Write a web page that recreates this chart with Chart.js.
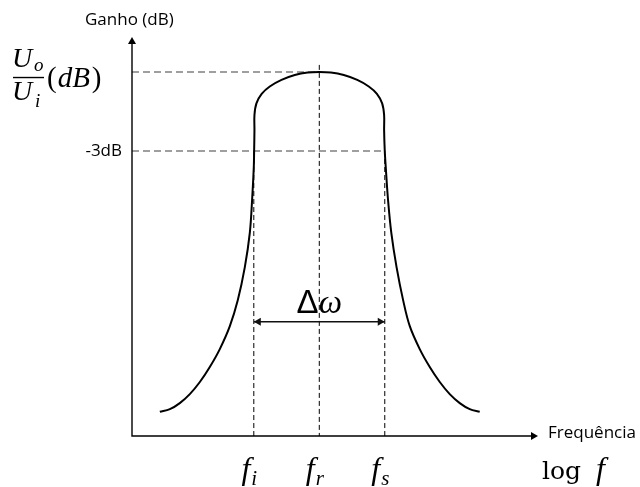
<!DOCTYPE html>
<html>
<head>
<meta charset="utf-8">
<script src="https://cdn.jsdelivr.net/npm/chart.js@4/dist/chart.umd.min.js"></script>
<style>
  html, body { margin: 0; padding: 0; background: #fff; }
  #wrap { width: 640px; height: 487px; }
</style>
</head>
<body>
<div id="wrap"><canvas id="bandChart"></canvas></div>
<script>
// x: log f with f_r at 0 and one unit to f_i / f_s; y: gain in dB
const xMin = -2.86, xMax = 3.34;
const yMin = -13.82, yMax = 1.33;

const markerSubs = ['i', 'r', 's'];
const markerX = [-1, 0, 1];

const gainTicks = [0, -3];
const gainLabels = ['', '-3dB'];

const curveX = [-2.435, -2.282, -2.130, -1.977, -1.824, -1.672, -1.519, -1.366, -1.244, -1.137, -1.061, -1.026, -1.0,
  -0.995, -0.99, -0.99, -0.96, -0.88, -0.756, -0.577, -0.374, -0.176, 0,
  0.176, 0.374, 0.58, 0.756, 0.88, 0.96, 0.99, 0.99, 1.0, 1.015, 1.05, 1.10, 1.18, 1.28,
  1.382, 1.534, 1.687, 1.840, 1.992, 2.145, 2.298, 2.450];
const curveY = [-12.90, -12.80, -12.57, -12.23, -11.77, -11.20, -10.52, -9.65, -8.66, -7.41, -6.11, -4.86, -3.61,
  -3.0, -2.20, -1.63, -1.19, -0.83, -0.55, -0.30, -0.114, -0.02, 0,
  -0.02, -0.114, -0.30, -0.55, -0.83, -1.19, -1.63, -2.20, -3.0, -3.61, -4.86, -6.11, -7.41, -8.66,
  -9.65, -10.52, -11.20, -11.77, -12.23, -12.57, -12.80, -12.90];

const bandwidthY = -9.48;
const peakGuideTop = 0.27;

const curve = curveX.map((x, i) => ({ x: x, y: curveY[i] }));

// dashed guides: gain levels run to the marker where they meet the curve
const gainGuides = [
  { data: [{ x: xMin, y: gainTicks[0] }, { x: markerX[1], y: gainTicks[0] }] },
  { data: [{ x: xMin, y: gainTicks[1] }, { x: markerX[2], y: gainTicks[1] }] }
];
const freqGuides = [
  { data: [{ x: markerX[0], y: gainTicks[1] }, { x: markerX[0], y: yMin }] },
  { data: [{ x: markerX[1], y: peakGuideTop }, { x: markerX[1], y: yMin }] },
  { data: [{ x: markerX[2], y: gainTicks[1] }, { x: markerX[2], y: yMin }] }
];

function arrowHead(ctx, x, y, dir) {
  // dir: 'up', 'right', 'left'
  ctx.beginPath();
  if (dir === 'up') {
    ctx.moveTo(x, y); ctx.lineTo(x - 4, y + 7); ctx.lineTo(x + 4, y + 7);
  } else if (dir === 'right') {
    ctx.moveTo(x, y); ctx.lineTo(x - 7, y - 4); ctx.lineTo(x - 7, y + 4);
  } else {
    ctx.moveTo(x, y); ctx.lineTo(x + 7, y - 4); ctx.lineTo(x + 7, y + 4);
  }
  ctx.closePath();
  ctx.fill();
}

const annotations = {
  id: 'annotations',
  afterDatasetsDraw(chart) {
    const ctx = chart.ctx;
    const area = chart.chartArea;
    const xs = chart.scales.x, ys = chart.scales.y;
    ctx.save();

    // axes with arrows
    ctx.strokeStyle = '#000';
    ctx.fillStyle = '#000';
    ctx.lineWidth = 1.4;
    ctx.beginPath();
    ctx.moveTo(area.left, area.top + 5);
    ctx.lineTo(area.left, area.bottom);
    ctx.lineTo(area.right - 5, area.bottom);
    ctx.stroke();
    arrowHead(ctx, area.left, area.top, 'up');
    arrowHead(ctx, area.right, area.bottom, 'right');

    // bandwidth arrow
    const bwY = ys.getPixelForValue(bandwidthY);
    const bwL = xs.getPixelForValue(markerX[0]);
    const bwR = xs.getPixelForValue(markerX[2]);
    ctx.fillStyle = '#111';
    arrowHead(ctx, bwL, bwY, 'left');
    arrowHead(ctx, bwR, bwY, 'right');

    ctx.fillStyle = '#000';

    // axis titles
    ctx.font = '17px "Open Sans"';
    ctx.textAlign = 'left';
    ctx.textBaseline = 'middle';
    ctx.fillText('Ganho (dB)', 85, area.top - 17);
    ctx.fillText('Frequência', area.right + 10, area.bottom - 3);

    // gain tick labels
    ctx.textAlign = 'right';
    gainTicks.forEach((g, i) => {
      if (gainLabels[i]) ctx.fillText(gainLabels[i], area.left - 10, ys.getPixelForValue(g));
    });

    // Uo/Ui (dB) next to the 0 dB level
    const y0 = ys.getPixelForValue(gainTicks[0]);
    ctx.textBaseline = 'alphabetic';
    ctx.textAlign = 'left';
    ctx.font = 'italic 28px "Liberation Serif"';
    ctx.fillText('U', 12, y0 - 5);
    ctx.fillText('U', 12, y0 + 28);
    ctx.font = 'italic 19px "Liberation Serif"';
    ctx.fillText('o', 34, y0 - 1);
    ctx.fillText('i', 35, y0 + 35);
    ctx.lineWidth = 1.4;
    ctx.beginPath();
    ctx.moveTo(13, y0 + 5.5);
    ctx.lineTo(44, y0 + 5.5);
    ctx.stroke();
    let px = 47;
    ctx.font = '29px "Liberation Serif"';
    ctx.fillText('(', px, y0 + 15);
    px += ctx.measureText('(').width + 1;
    ctx.font = 'italic 29px "Liberation Serif"';
    ctx.fillText('dB', px, y0 + 15);
    px += ctx.measureText('dB').width + 2;
    ctx.font = '29px "Liberation Serif"';
    ctx.fillText(')', px, y0 + 15);

    // frequency markers
    markerX.forEach((m, i) => {
      const mx = xs.getPixelForValue(m);
      ctx.font = 'italic 32px "Liberation Serif"';
      const fw = ctx.measureText('f').width;
      ctx.font = 'italic 21px "Liberation Serif"';
      const sw = ctx.measureText(markerSubs[i]).width;
      const left = mx - 5 - (fw + sw) / 2;
      ctx.font = 'italic 32px "Liberation Serif"';
      ctx.fillText('f', left, area.bottom + 43);
      ctx.font = 'italic 21px "Liberation Serif"';
      ctx.fillText(markerSubs[i], left + fw + 1, area.bottom + 49);
    });

    // log f
    ctx.font = '25px "DejaVu Serif"';
    ctx.fillText('log', area.right + 4, area.bottom + 43);
    ctx.font = 'italic 32px "Liberation Serif"';
    ctx.fillText('f', area.right + 58, area.bottom + 43);

    // Δω above the bandwidth arrow
    ctx.font = '33px "Liberation Sans"';
    const dw = ctx.measureText('Δ').width;
    ctx.font = 'italic 33px "Liberation Serif"';
    const ow = ctx.measureText('ω').width;
    const tx = xs.getPixelForValue(markerX[1]) - (dw + ow) / 2;
    ctx.font = '33px "Liberation Sans"';
    ctx.fillText('Δ', tx, bwY - 9);
    ctx.font = 'italic 33px "Liberation Serif"';
    ctx.fillText('ω', tx + dw, bwY - 9);

    ctx.restore();
  }
};

const ctx = document.getElementById('bandChart').getContext('2d');
const bandChart = new Chart(ctx, {
  type: 'scatter',
  data: {
    datasets: [
      {
        data: curve,
        showLine: true,
        borderColor: '#000',
        borderWidth: 2,
        tension: 0.35,
        pointRadius: 0
      },
      {
        data: [{ x: markerX[0], y: bandwidthY }, { x: markerX[2], y: bandwidthY }],
        showLine: true,
        borderColor: '#111',
        borderWidth: 1.4,
        pointRadius: 0
      },
      ...gainGuides.map(g => ({
        data: g.data,
        showLine: true,
        borderColor: '#808080',
        borderWidth: 1.6,
        borderDash: [7, 4],
        pointRadius: 0
      })),
      ...freqGuides.map(g => ({
        data: g.data,
        showLine: true,
        borderColor: '#000',
        borderWidth: 1,
        borderDash: [5, 3],
        pointRadius: 0
      }))
    ]
  },
  options: {
    responsive: true,
    maintainAspectRatio: false,
    animation: false,
    layout: { padding: { left: 132, right: 102, top: 37, bottom: 51 } },
    plugins: {
      legend: { display: false },
      tooltip: { enabled: false }
    },
    scales: {
      x: { type: 'linear', min: xMin, max: xMax, display: false },
      y: { type: 'linear', min: yMin, max: yMax, display: false }
    }
  },
  plugins: [annotations]
});
</script>
</body>
</html>
